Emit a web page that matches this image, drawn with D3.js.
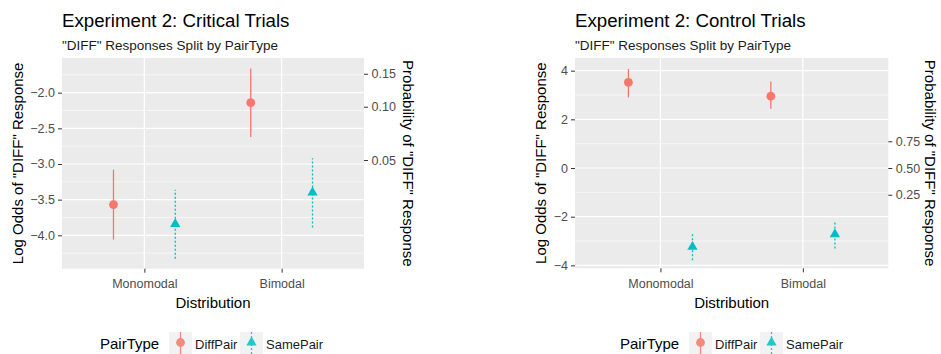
<!DOCTYPE html>
<html>
<head>
<meta charset="utf-8">
<script src="https://cdn.jsdelivr.net/npm/d3@7"></script>
<style>
  body { margin: 0; background: #fff; }
  svg { display: block; font-family: "Liberation Sans", Arial, sans-serif; }
</style>
</head>
<body>
<div id="chart"></div>
<script>
const distributions = ["Monomodal", "Bimodal"];
const pairTypes = ["DiffPair", "SamePair"];

// critical trials: log odds estimate with interval
const critDiffEst = [-3.57, -2.14];
const critDiffLow = [-4.06, -2.62];
const critDiffHigh = [-3.08, -1.66];
const critSameEst = [-3.84, -3.40];
const critSameLow = [-4.33, -3.89];
const critSameHigh = [-3.36, -2.92];

// control trials
const ctrlDiffEst = [3.52, 2.95];
const ctrlDiffLow = [2.90, 2.43];
const ctrlDiffHigh = [4.07, 3.55];
const ctrlSameEst = [-3.24, -2.72];
const ctrlSameLow = [-3.79, -3.31];
const ctrlSameHigh = [-2.65, -2.17];

const critLogTicks = [-4, -3.5, -3, -2.5, -2];
const critProbTicks = [0.05, 0.10, 0.15];
const ctrlLogTicks = [-4, -2, 0, 2, 4];
const ctrlProbTicks = [0.25, 0.50, 0.75];

const colors = {DiffPair: "#F8766D", SamePair: "#00BFC4"};
const dashes = {DiffPair: null, SamePair: "2,2"};

const W = 941, H = 354;
const svg = d3.select("#chart").append("svg").attr("width", W).attr("height", H);

const logit = p => Math.log(p / (1 - p));
const expit = x => 1 / (1 + Math.exp(-x));

function rows(est, lo, hi, type) {
  return distributions.map((d, i) => ({dist: d, type: type, est: est[i], lo: lo[i], hi: hi[i]}));
}

function drawPoint(g, type, x, y) {
  if (type === "DiffPair") {
    g.append("circle").attr("cx", x).attr("cy", y).attr("r", 4.4).attr("fill", colors[type]);
  } else {
    g.append("path")
      .attr("d", d3.symbol(d3.symbolTriangle, 46)())
      .attr("transform", `translate(${x},${y})`)
      .attr("fill", colors[type]);
  }
}

function panel(cfg) {
  const g = svg.append("g");
  const x = d3.scalePoint().domain(distributions).range([cfg.x0, cfg.x1]).padding(0.6);
  const y = d3.scaleLinear().domain(cfg.domain).range([cfg.y1, cfg.y0]);
  const dodge = x.step() * 0.225;

  // titles
  g.append("text").attr("x", cfg.x0).attr("y", 26.7).attr("font-size", 18.7).attr("fill", "#000").text(cfg.title);
  g.append("text").attr("x", cfg.x0).attr("y", 50).attr("font-size", 13.5).attr("fill", "#1a1a1a").text('"DIFF" Responses Split by PairType');

  // panel background + grid
  g.append("rect").attr("x", cfg.x0).attr("y", cfg.y0)
    .attr("width", cfg.x1 - cfg.x0).attr("height", cfg.y1 - cfg.y0).attr("fill", "#EBEBEB");
  const step = cfg.logTicks[1] - cfg.logTicks[0];
  const minor = cfg.logTicks.map(t => t - step / 2).concat([cfg.logTicks[cfg.logTicks.length - 1] + step / 2])
    .filter(v => v > cfg.domain[0] && v < cfg.domain[1]);
  g.selectAll(".minor").data(minor).enter().append("line")
    .attr("x1", cfg.x0).attr("x2", cfg.x1).attr("y1", d => y(d)).attr("y2", d => y(d))
    .attr("stroke", "#fff").attr("stroke-width", 0.6);
  g.selectAll(".major").data(cfg.logTicks).enter().append("line")
    .attr("x1", cfg.x0).attr("x2", cfg.x1).attr("y1", d => y(d)).attr("y2", d => y(d))
    .attr("stroke", "#fff").attr("stroke-width", 1.2);
  g.selectAll(".vmajor").data(distributions).enter().append("line")
    .attr("x1", d => x(d)).attr("x2", d => x(d)).attr("y1", cfg.y0).attr("y2", cfg.y1)
    .attr("stroke", "#fff").attr("stroke-width", 1.2);

  // point ranges
  cfg.data.forEach(r => {
    const cx = x(r.dist) + (r.type === "DiffPair" ? -dodge : dodge);
    g.append("line").attr("x1", cx).attr("x2", cx).attr("y1", y(r.lo)).attr("y2", y(r.hi))
      .attr("stroke", colors[r.type]).attr("stroke-width", 1.3)
      .attr("stroke-dasharray", dashes[r.type]);
    drawPoint(g, r.type, cx, y(r.est));
  });

  // axes
  const axL = g.append("g").attr("transform", `translate(${cfg.x0},0)`)
    .call(d3.axisLeft(y).tickValues(cfg.logTicks).tickSize(4).tickPadding(3)
      .tickFormat(cfg.logFormat));
  const axR = g.append("g").attr("transform", `translate(${cfg.x1},0)`)
    .call(d3.axisRight(y).tickValues(cfg.probTicks.map(logit)).tickSize(4).tickPadding(3.5)
      .tickFormat(d => d3.format(".2f")(expit(d))));
  const axB = g.append("g").attr("transform", `translate(0,${cfg.y1})`)
    .call(d3.axisBottom(x).tickSize(4).tickPadding(6.6));
  [axL, axR, axB].forEach(a => {
    a.select(".domain").remove();
    a.selectAll(".tick line").attr("stroke", "#333");
    a.selectAll(".tick text").attr("fill", "#4D4D4D").attr("font-size", 12.5)
      .attr("font-family", "Liberation Sans, Arial, sans-serif");
  });

  // axis titles
  const yc = (cfg.y0 + cfg.y1) / 2;
  g.append("text").attr("transform", `translate(${cfg.yTitleX},${yc}) rotate(-90)`)
    .attr("text-anchor", "middle").attr("dy", "0.35em").attr("font-size", 15).text('Log Odds of "DIFF" Response');
  g.append("text").attr("transform", `translate(${cfg.probTitleX},${yc}) rotate(90)`)
    .attr("text-anchor", "middle").attr("dy", "0.35em").attr("font-size", 15).text('Probability of "DIFF" Response');
  g.append("text").attr("x", (cfg.x0 + cfg.x1) / 2).attr("y", 307.5)
    .attr("text-anchor", "middle").attr("font-size", 15).text("Distribution");

  // legend
  const lx = cfg.legendX;
  g.append("text").attr("x", lx).attr("y", 349).attr("font-size", 15).text("PairType");
  const keyX = [lx + 69, lx + 140];
  pairTypes.forEach((t, i) => {
    const kx = keyX[i];
    g.append("rect").attr("x", kx).attr("y", 332).attr("width", 23).attr("height", 23).attr("fill", "#F2F2F2");
    const k = g.append("g").attr("opacity", 0.85);
    k.append("line").attr("x1", kx + 11.5).attr("x2", kx + 11.5).attr("y1", 332).attr("y2", 355)
      .attr("stroke", colors[t]).attr("stroke-width", 1.3).attr("stroke-dasharray", dashes[t]);
    drawPoint(k, t, kx + 11.5, 342.5);
    g.append("text").attr("x", kx + 26).attr("y", 349).attr("font-size", 13).attr("fill", "#1a1a1a").text(t);
  });
}

panel({
  title: "Experiment 2: Critical Trials",
  x0: 62, x1: 364, y0: 58, y1: 268.7,
  domain: [-4.468, -1.514],
  logTicks: critLogTicks, probTicks: critProbTicks,
  logFormat: d3.format(".1f"),
  yTitleX: 18, probTitleX: 408, legendX: 100,
  data: rows(critDiffEst, critDiffLow, critDiffHigh, "DiffPair")
    .concat(rows(critSameEst, critSameLow, critSameHigh, "SamePair"))
});

panel({
  title: "Experiment 2: Control Trials",
  x0: 575, x1: 888.3, y0: 58, y1: 268.3,
  domain: [-4.12, 4.52],
  logTicks: ctrlLogTicks, probTicks: ctrlProbTicks,
  logFormat: d3.format("d"),
  yTitleX: 541, probTitleX: 930, legendX: 620,
  data: rows(ctrlDiffEst, ctrlDiffLow, ctrlDiffHigh, "DiffPair")
    .concat(rows(ctrlSameEst, ctrlSameLow, ctrlSameHigh, "SamePair"))
});
</script>
</body>
</html>
